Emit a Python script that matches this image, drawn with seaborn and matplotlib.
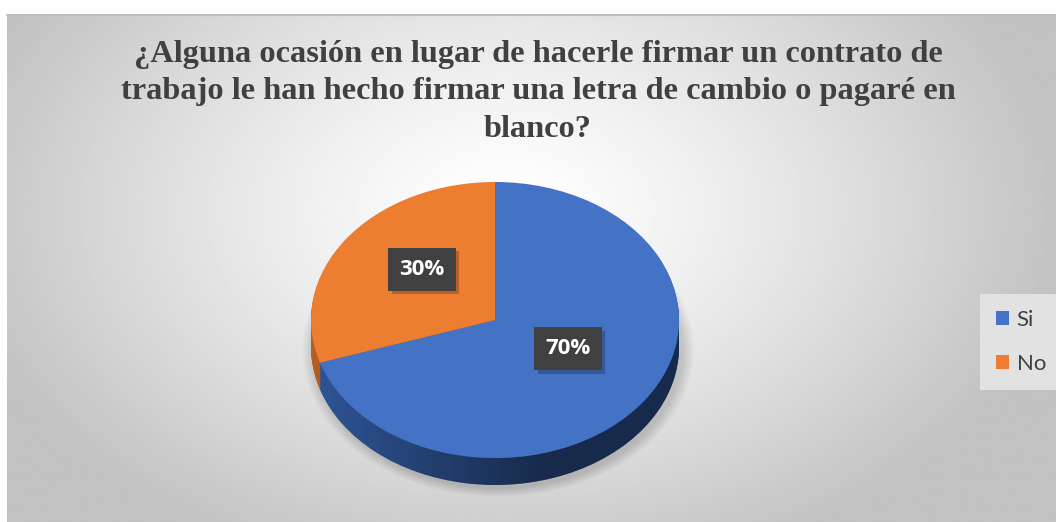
import numpy as np
import matplotlib
matplotlib.use("Agg")
import matplotlib.pyplot as plt
import matplotlib.patheffects as pe
from matplotlib.patches import Ellipse, Polygon
import seaborn as sns

# ---- data ----
categories = ["Si", "No"]
values = [70, 30]
title_text = ("¿Alguna ocasión en lugar de hacerle firmar un contrato de\n"
              "trabajo le han hecho firmar una letra de cambio o pagaré en\n"
              "blanco?")

top_colors = ["#4472C4", "#ED7D31"]
side_colors = ["#2F5597", "#B35E22"]

sns.set_theme(style="white")
plt.rcParams["font.family"] = ["DejaVu Sans"]

W, H = 1056, 522
fig = plt.figure(figsize=(W / 100, H / 100), dpi=100)
fig.patch.set_facecolor("white")

# ---- background gradient (chart area) ----
x0, y0top = 7, 14
bg = fig.add_axes([x0 / W, 0, 1 - x0 / W, (H - y0top) / H])
bg.set_axis_off()
gx = np.linspace(x0, W, 400)
gy = np.linspace(y0top, H, 200)
GX, GY = np.meshgrid(gx, gy)
r = np.sqrt(((GX - 505) / 560) ** 2 + ((GY - 210) / 380) ** 2)
val = np.clip(1.0 - 0.24 * r ** 1.3, 0.76, 1.0)
bg.imshow(val, cmap="gray", vmin=0, vmax=1, aspect="auto",
          extent=[0, 1, 0, 1], interpolation="bilinear")
bg.set_xlim(0, 1)
bg.set_ylim(0, 1)
fig.add_artist(plt.Line2D([x0 / W, 1], [1 - 14.5 / H, 1 - 14.5 / H],
                          color="#BDBDBD", lw=1.5))

# ---- pie axes: 1 data unit = 1 px horizontally, squashed vertically ----
a_px, b_px = 184.0, 138.0
s = b_px / a_px
cx, cy_px = 495.0, 320.0
depth = 27

ax = fig.add_axes([0, 0, 1, 1])
ax.set_axis_off()
ax.patch.set_alpha(0)

def ydata(py):
    return (H - py) / s

# soft shadow under pie
for k in range(12):
    e = Ellipse((cx + 3, ydata(cy_px + depth + 3)), 2 * (a_px + 12 - k),
                2 * (a_px + 12 - k), facecolor="black", alpha=0.012,
                edgecolor="none")
    ax.add_patch(e)

# side extrusion layers
for d in range(depth, 0, -1):
    ax.pie(values, colors=side_colors, startangle=90, counterclock=False,
           radius=a_px, center=(cx, ydata(cy_px + d)),
           wedgeprops=dict(linewidth=0), frame=True)

# horizontal shading of the side wall
th = np.linspace(np.pi, 2 * np.pi, 200)
upper = np.column_stack([cx + a_px * np.cos(th),
                         ydata(cy_px) + a_px * np.sin(th)])
lower = np.column_stack([cx + a_px * np.cos(th[::-1]),
                         ydata(cy_px + depth) + a_px * np.sin(th[::-1])])
side_poly = Polygon(np.vstack([upper, lower]), closed=True,
                    facecolor="none", edgecolor="none")
ax.add_patch(side_poly)
shade = np.linspace(0.0, 1.0, 300)[None, :]
shade = np.clip(shade * 1.6, 0, 1) * 0.5
rgba = np.zeros((1, 300, 4))
rgba[..., 3] = shade
im = ax.imshow(rgba, extent=[cx - a_px, cx + a_px,
                             ydata(cy_px + depth) - a_px, ydata(cy_px)],
               aspect="auto", interpolation="bilinear", zorder=1.5)
im.set_clip_path(side_poly)

# top face
wedges, texts, autotexts = ax.pie(
    values, colors=top_colors, startangle=90, counterclock=False,
    radius=a_px, center=(cx, ydata(cy_px)),
    autopct=lambda p: f"{p:.0f}%", pctdistance=0.49,
    wedgeprops=dict(linewidth=0, zorder=2), frame=True,
    textprops=dict(color="white", fontsize=16, fontweight="bold",
                   family=["Open Sans", "DejaVu Sans"], zorder=5))

for t in autotexts:
    px, py = t.get_position()
    t.set_position((px, py + 11 / s))
    t.set_bbox(dict(boxstyle="square,pad=0.5", facecolor="#404040",
                    edgecolor="none"))
    t.get_bbox_patch().set_path_effects(
        [pe.withSimplePatchShadow(offset=(2.5, -2.5), shadow_rgbFace="black",
                                  alpha=0.22), pe.Normal()])

ax.set_aspect("auto")
ax.set_xlim(0, W)
ax.set_ylim(0, H / s)
ax.set_xticks([])
ax.set_yticks([])
for sp in ax.spines.values():
    sp.set_visible(False)

# legend
leg = ax.legend(wedges, categories, loc="upper left",
                bbox_to_anchor=(980 / W, 1 - 294 / H), frameon=True,
                facecolor="#E2E2E2", edgecolor="none", framealpha=1,
                fancybox=False, handlelength=0.6, handleheight=0.6,
                labelspacing=1.1, handletextpad=0.35, borderpad=0.7,
                borderaxespad=0,
                prop=dict(family=["Lato", "DejaVu Sans"], size=16))
for t in leg.get_texts():
    t.set_color("#404040")

# title
fig.text(538 / W, 1 - 92 / H, title_text, ha="center", va="center",
         fontsize=23.3, fontweight="bold", color="#404040",
         family=["Liberation Serif", "DejaVu Serif"], linespacing=1.4)

fig.savefig("out.png", dpi=100)
